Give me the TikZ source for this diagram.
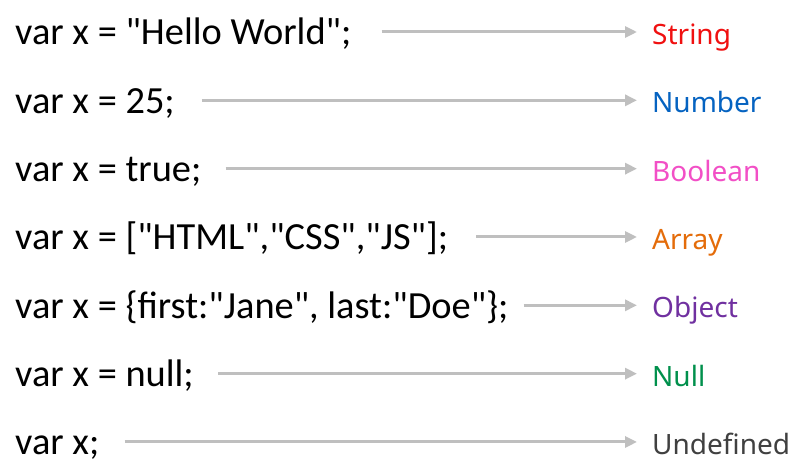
\documentclass[tikz,border=0pt]{standalone}
\usepackage{fontspec}
\setmainfont[Ligatures=TeXOff]{Carlito}
\newfontfamily\labelfont{Noto Sans}
\usetikzlibrary{arrows.meta}
\definecolor{arrowgray}{HTML}{BFBFBF}
\definecolor{cString}{HTML}{F01010}
\definecolor{cNumber}{HTML}{0563C1}
\definecolor{cBoolean}{HTML}{F24FC6}
\definecolor{cArray}{HTML}{E46C0A}
\definecolor{cObject}{HTML}{7030A0}
\definecolor{cNull}{HTML}{00904C}
\definecolor{cUndef}{HTML}{404040}
\tikzset{
  code/.style={anchor=base west, inner sep=0pt, font=\fontsize{38.4}{40}\selectfont},
  kind/.style={anchor=base west, inner sep=0pt, font=\labelfont\fontsize{28}{30}\selectfont},
  maps/.style={draw=arrowgray, line width=3pt,
    -{Triangle[length=12pt,width=11pt]}, shorten >=15pt}
}
\begin{document}
\begin{tikzpicture}[x=1pt,y=-1pt]
\useasboundingbox[fill=white] (0,0) rectangle (806,470);
\foreach \i/\src/\typ/\col/\gap in {
  1/{var x = "Hello World";}/String/cString/30,
  2/{var x = 25;}/Number/cNumber/27,
  3/{var x = true;}/Boolean/cBoolean/24,
  4/{var x = ["HTML","CSS","JS"];}/Array/cArray/28,
  5/{var x = \{first:"Jane", last:"Doe"\};}/Object/cObject/15,
  6/{var x = null;}/Null/cNull/24,
  7/{var x;}/Undefined/cUndef/25}
{
  \pgfmathsetmacro{\yy}{45+68.33*(\i-1)}
  \node[code] (c\i) at (15,\yy) {\src};
  \node[kind, text=\col] (t\i) at (652,\yy-0.5) {\typ};
  \coordinate (a\i) at (0,\yy-13);
  \draw[maps, shorten <=\gap pt] (c\i.east |- a\i) -- (t\i.west |- a\i);
}
\end{tikzpicture}
\end{document}
